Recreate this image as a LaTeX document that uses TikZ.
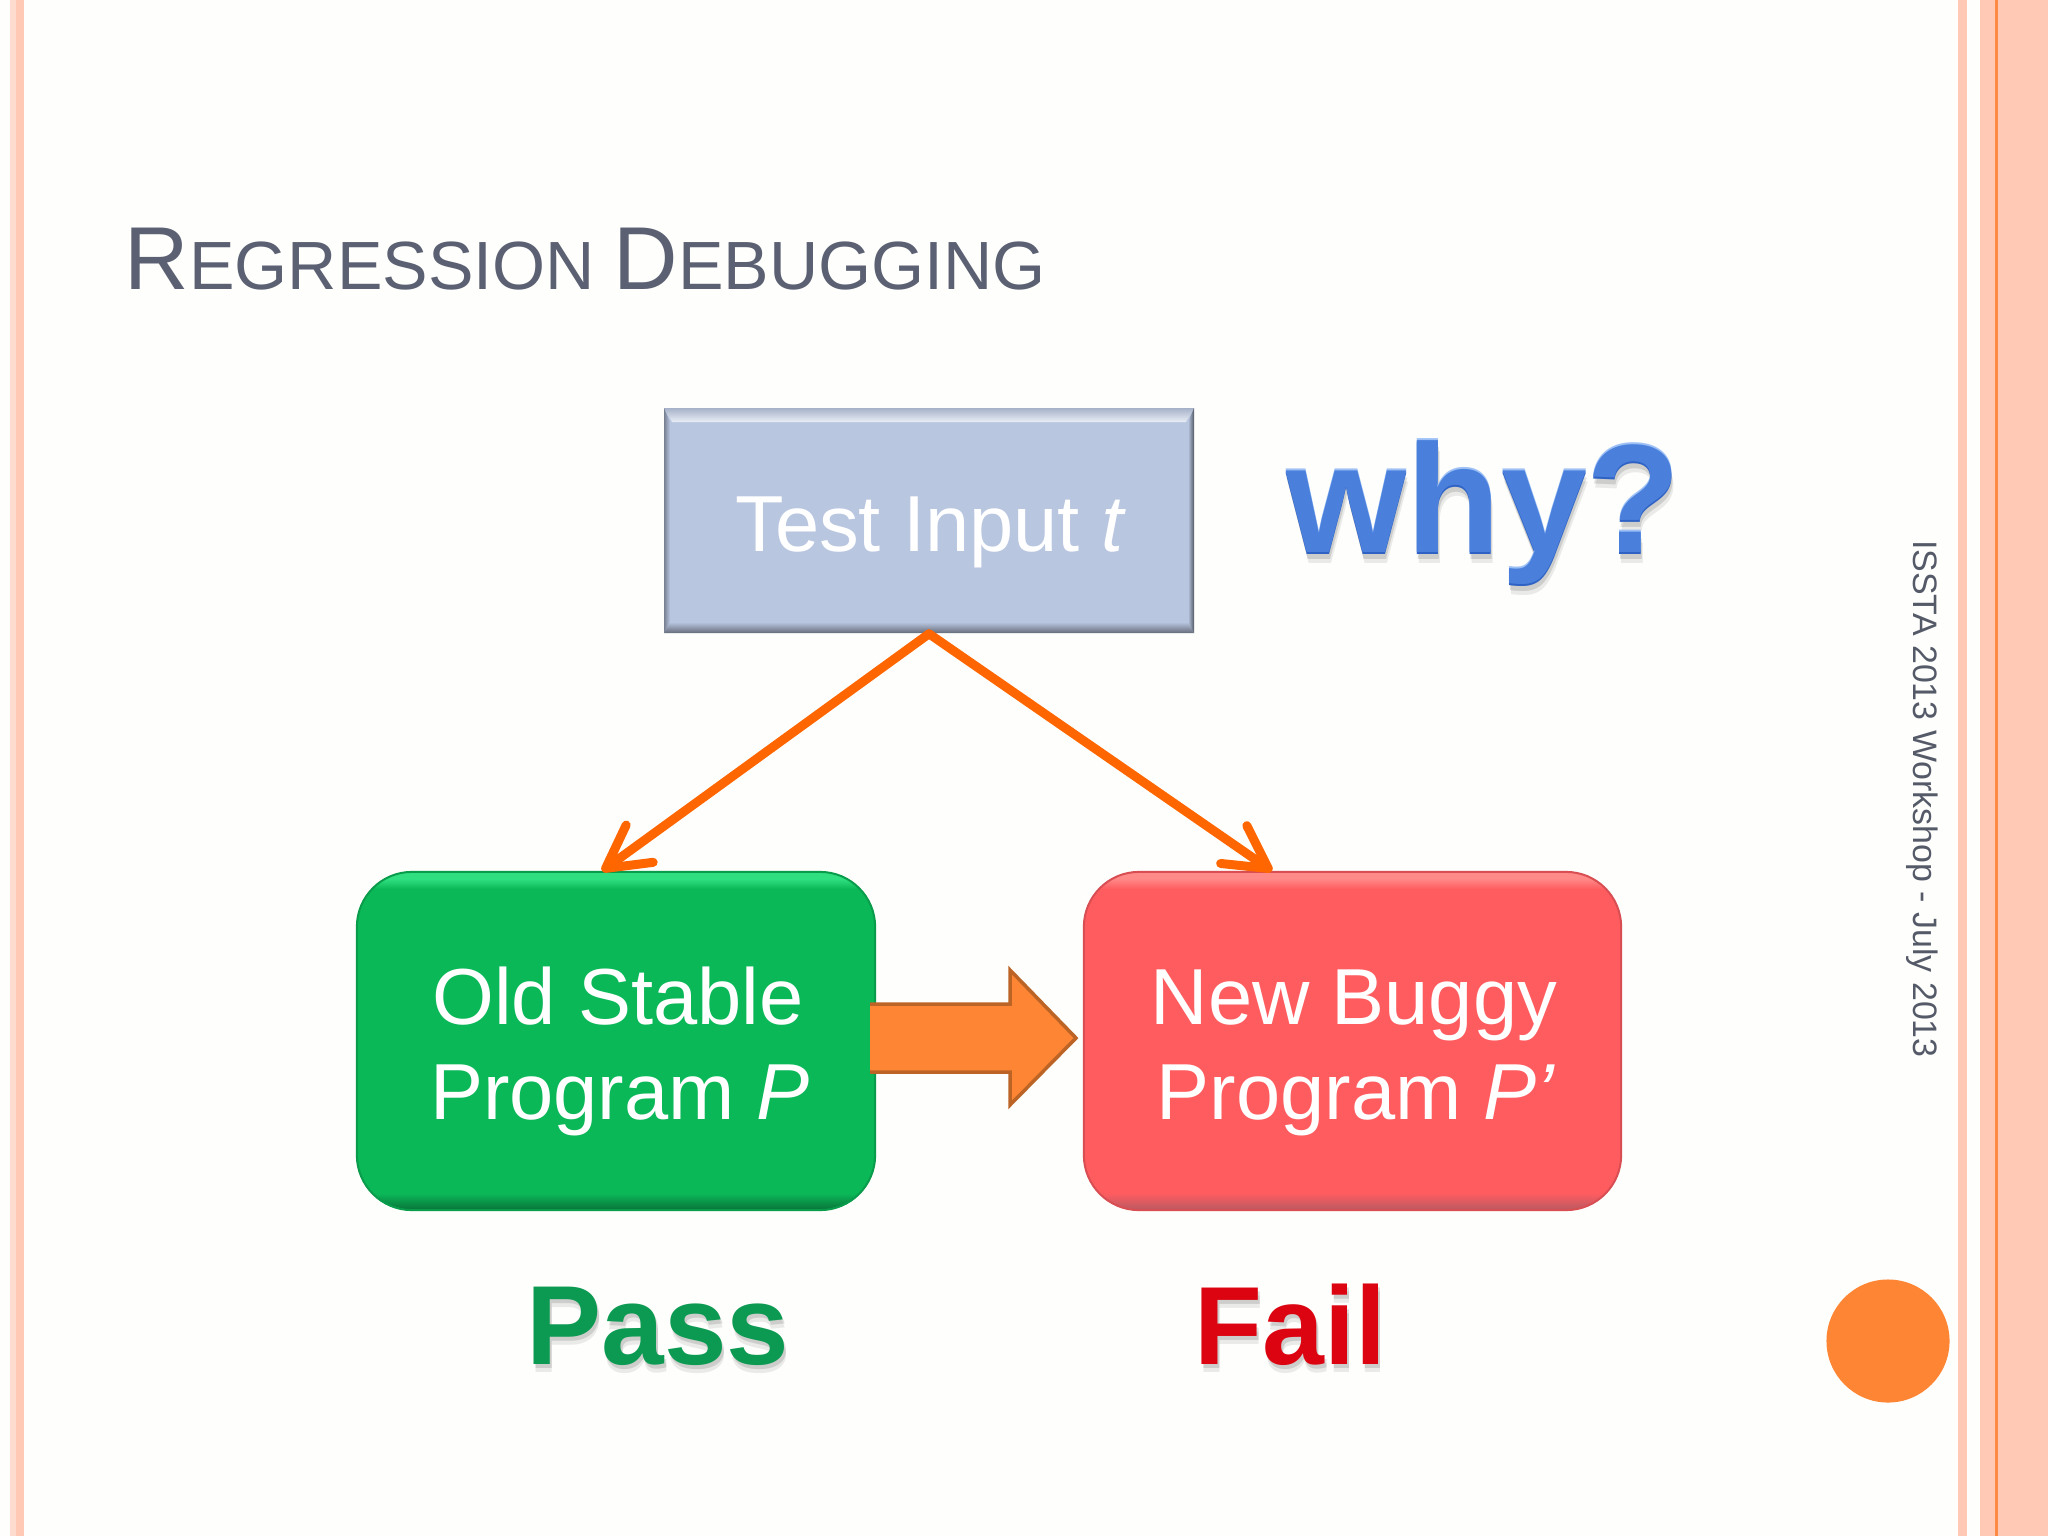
\documentclass[tikz,border=0pt]{standalone}
\usepackage{fontspec}
\setmainfont{Liberation Sans}
\usetikzlibrary{arrows.meta,positioning,calc}
\definecolor{pagebg}{HTML}{FEFEFC}
\definecolor{bandpink}{HTML}{FFC9B6}
\definecolor{bandpale}{HTML}{FDDCCF}
\definecolor{bandorange}{HTML}{FD8A43}
\definecolor{titlegray}{HTML}{5B6172}
\definecolor{footgray}{HTML}{555A68}
\definecolor{testfill}{HTML}{B9C6E0}
\definecolor{testedge}{HTML}{7F8DAB}
\definecolor{oldfill}{HTML}{0BB858}
\definecolor{oldlight}{HTML}{30E080}
\definecolor{olddark}{HTML}{087A3C}
\definecolor{newfill}{HTML}{FF5C60}
\definecolor{newlight}{HTML}{FF8A88}
\definecolor{newdark}{HTML}{C05A60}
\definecolor{connorange}{HTML}{FF6600}
\definecolor{blockfill}{HTML}{FE8533}
\definecolor{blockline}{HTML}{BC6426}
\definecolor{whyblue}{HTML}{4A80DC}
\definecolor{whydark}{HTML}{2E62C4}
\definecolor{whylight}{HTML}{9CC0F6}
\definecolor{passgreen}{HTML}{0C9A52}
\definecolor{failred}{HTML}{DC0410}
\pgfdeclareverticalshading{oldbevel}{100bp}{color(0bp)=(olddark); color(25.3bp)=(olddark); color(27.5bp)=(oldfill); color(72.5bp)=(oldfill); color(74bp)=(oldlight); color(100bp)=(oldlight)}
\pgfdeclareverticalshading{newbevel}{100bp}{color(0bp)=(newdark); color(25.3bp)=(newdark); color(27.5bp)=(newfill); color(72.5bp)=(newfill); color(74bp)=(newlight); color(100bp)=(newlight)}
\tikzset{
  x=0.01cm,y=-0.01cm,
  boxlabel/.style={text=white,font=\fontsize{22.6}{27}\selectfont,anchor=base,inner sep=0pt},
  conn/.style={draw=connorange,line width=0.09cm,line cap=round,-{Straight Barb[length=4.2mm,width=4.6mm,round]}},
  bigword/.style={font=\fontsize{#1}{#1}\selectfont\bfseries,anchor=base west,inner sep=0pt},
  softbox/.style={rectangle,rounded corners=0.55cm,minimum width=#1,inner sep=0pt},
}
\begin{document}
\begin{tikzpicture}
\useasboundingbox (0,0) rectangle (2048,1536);
\fill[pagebg] (0,0) rectangle (2048,1536);
% page bands
\fill[bandpale] (10,0) rectangle (16,1536);
\fill[bandpink] (16,0) rectangle (24,1536);
\fill[bandpink] (1958,0) rectangle (1967,1536);
\fill[bandpink] (1980,0) rectangle (2048,1536);
\fill[bandorange] (1995,0) rectangle (1998,1536);
% title
\node[anchor=base west,inner sep=0pt,text=titlegray] (title) at (124,289)
  {\fontsize{25.4}{30}\selectfont R\fontsize{19.4}{30}\selectfont EGRESSION \fontsize{25.4}{30}\selectfont D\fontsize{19.4}{30}\selectfont EBUGGING};
% footer
\node[rotate=-90,text=footgray,inner sep=0pt,font=\fontsize{9.65}{11}\selectfont] (foot) at (1922,799) {ISSTA 2013 Workshop - July 2013};
% circle
\node[circle,fill=blockfill,minimum size=1.23cm,inner sep=0pt] (dot) at (1888,1341) {};
% test box
\node[rectangle,fill=testfill,draw=none,minimum width=5.30cm,minimum height=2.25cm,inner sep=0pt] (test) at (929,520.5) {};
\shade[top color=testfill!90!black,bottom color=white!70!testfill] (664,408) -- (1194,408) -- (1186,422) -- (672,422) -- cycle;
\shade[left color=testfill!65!black,right color=testfill] (664,408) -- (670,422) -- (670,622) -- (664,633) -- cycle;
\shade[left color=testfill,right color=testfill!45!black] (1194,408) -- (1188,422) -- (1188,622) -- (1194,633) -- cycle;
\shade[top color=testfill,bottom color=testfill!55!black] (664,633) -- (670,622) -- (1188,622) -- (1194,633) -- cycle;
\node[boxlabel] (testlabel) at (931,551) {Test Input \textit{t}};
% old box
\node[softbox=5.18cm,minimum height=3.38cm,shading=oldbevel,draw=oldfill!85!black,line width=0.02cm] (old) at (616,1041) {};
\node[boxlabel] (oldone) at (618,1024) {Old Stable};
\node[boxlabel] (oldtwo) at (620,1119) {Program \textit{P}};
% new box
\node[softbox=5.37cm,minimum height=3.38cm,shading=newbevel,draw=newfill!85!black,line width=0.02cm] (new) at (1352.5,1041) {};
\node[boxlabel] (newone) at (1354,1024) {New Buggy};
\node[boxlabel] (newtwo) at (1356,1119) {Program \textit{P’}};
% connectors
\coordinate (tipold) at (602,871);
\coordinate (tipnew) at (1272,871);
\draw[conn] (test.south) -- (tipold);
\draw[conn] (test.south) -- (tipnew);
% block arrow
\fill[blockfill] (870,1004) -- (1010,1004) -- (1010,970) -- (1076,1038) -- (1010,1105) -- (1010,1072) -- (870,1072) -- cycle;
\draw[blockline,line width=0.035cm,line join=miter] (870,1004) -- (1010,1004) -- (1010,970) -- (1076,1038) -- (1010,1105) -- (1010,1072) -- (870,1072);
% why?
\node[bigword=43.9,text=black,opacity=.08] at (1288,563) {why?};
\node[bigword=43.9,text=black,opacity=.12] at (1287,559) {why?};
\node[bigword=43.9,text=whydark] at (1286,554) {why?};
\node[bigword=43.9,text=whylight] at (1286,550) {why?};
\node[bigword=43.9,text=whyblue] (why) at (1286,552) {why?};
% pass / fail
\node[bigword=32,text=black,opacity=.08] at (528,1372) {Pass};
\node[bigword=32,text=black,opacity=.12] at (528,1368) {Pass};
\node[bigword=32,text=passgreen] (pass) at (526,1364) {Pass};
\node[bigword=31.6,text=black,opacity=.08] at (1196,1372) {Fail};
\node[bigword=31.6,text=black,opacity=.12] at (1196,1368) {Fail};
\node[bigword=31.6,text=failred] (fail) at (1194,1364) {Fail};
\end{tikzpicture}
\end{document}
